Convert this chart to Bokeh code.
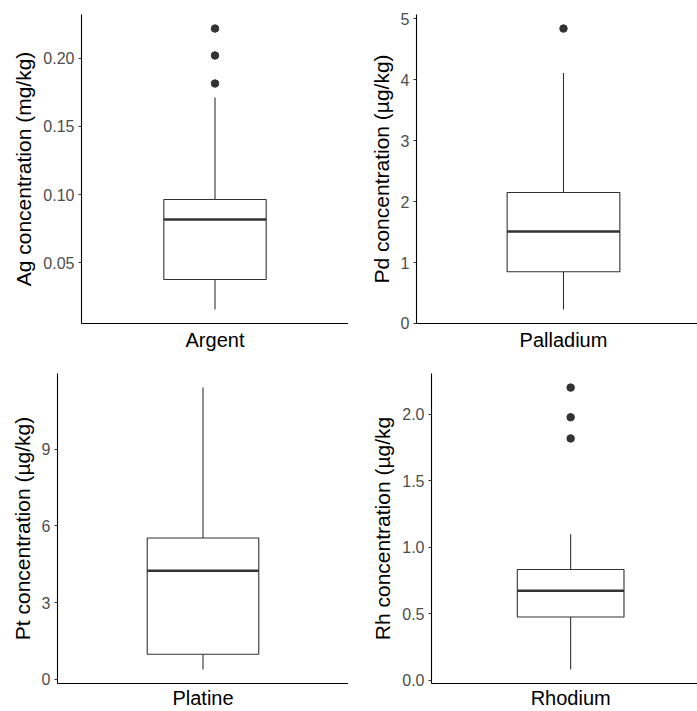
from bokeh.plotting import figure
from bokeh.models import Range1d, FixedTicker, ColumnDataSource
from bokeh.layouts import column, row
from bokeh.embed import file_html
from bokeh.resources import INLINE

# ---- data ----
categories = ["Argent", "Palladium", "Platine", "Rhodium"]
y_titles = ["Ag concentration (mg/kg)", "Pd concentration (µg/kg)",
            "Pt concentration (µg/kg)", "Rh concentration (µg/kg"]
whisker_low = [0.0155, 0.23, 0.39, 0.083]
q1 = [0.0375, 0.85, 0.98, 0.477]
median = [0.0816, 1.51, 4.25, 0.674]
q3 = [0.0963, 2.15, 5.53, 0.833]
whisker_high = [0.1713, 4.11, 11.41, 1.098]
outliers = [[0.1816, 0.2022, 0.222], [4.84], [], [1.818, 1.977, 2.20]]
y_ticks = [[0.05, 0.10, 0.15, 0.20], [0, 1, 2, 3, 4, 5], [0, 3, 6, 9],
           [0.0, 0.5, 1.0, 1.5, 2.0]]
y_tick_labels = [["0.05", "0.10", "0.15", "0.20"], ["0", "1", "2", "3", "4", "5"],
                 ["0", "3", "6", "9"], ["0.0", "0.5", "1.0", "1.5", "2.0"]]

DARK = "#333333"
FONT = "Liberation Sans"
BOX_W = 0.46


def make_panel(i, width, height, bl, bt, bb, x_end, xstand):
    vals = [whisker_low[i], whisker_high[i]] + outliers[i]
    lo, hi = min(vals), max(vals)
    pad = 0.05 * (hi - lo)
    p = figure(width=width, height=height,
               x_range=Range1d(-0.6, x_end), y_range=Range1d(lo - pad, hi + pad),
               output_backend="svg", toolbar_location=None,
               min_border_left=bl, min_border_right=0,
               min_border_top=bt, min_border_bottom=bb)
    p.outline_line_color = None
    p.xgrid.visible = False
    p.ygrid.visible = False
    p.background_fill_color = "white"
    p.border_fill_color = "white"

    xc = 0  # position of the single category in this panel
    src = ColumnDataSource(dict(
        x=[xc], left=[xc - BOX_W / 2], right=[xc + BOX_W / 2],
        lo=[whisker_low[i]], q1=[q1[i]], med=[median[i]], q3=[q3[i]],
        hi=[whisker_high[i]]))
    p.segment(x0="x", y0="lo", x1="x", y1="q1", source=src,
              line_color=DARK, line_width=1.1)
    p.segment(x0="x", y0="q3", x1="x", y1="hi", source=src,
              line_color=DARK, line_width=1.1)
    p.quad(left="left", right="right", bottom="q1", top="q3", source=src,
           fill_color="white", line_color=DARK, line_width=1.1)
    p.segment(x0="left", y0="med", x1="right", y1="med", source=src,
              line_color=DARK, line_width=2.6)
    if outliers[i]:
        p.scatter(x=[xc] * len(outliers[i]), y=outliers[i], size=7.5,
                  color=DARK, line_color=DARK)

    # x axis
    xa = p.xaxis[0]
    xa.ticker = FixedTicker(ticks=[xc])
    xa.major_label_overrides = {xc: categories[i]}
    xa.major_tick_out = 0
    xa.major_tick_in = 0
    xa.minor_tick_out = 0
    xa.minor_tick_in = 0
    xa.axis_line_color = "black"
    xa.axis_line_width = 1.1
    xa.major_label_text_font = FONT
    xa.major_label_text_font_size = "20px"
    xa.major_label_text_color = "black"
    xa.major_label_standoff = xstand

    # y axis
    ya = p.yaxis[0]
    ya.ticker = FixedTicker(ticks=y_ticks[i])
    ya.major_label_overrides = dict(zip(y_ticks[i], y_tick_labels[i]))
    ya.major_tick_out = 3
    ya.major_tick_in = 0
    ya.minor_tick_out = 0
    ya.minor_tick_in = 0
    ya.major_tick_line_color = DARK
    ya.axis_line_color = "black"
    ya.axis_line_width = 1.1
    ya.major_label_text_font = FONT
    ya.major_label_text_font_size = "16px"
    ya.major_label_text_color = "#4D4D4D"
    ya.major_label_standoff = 4
    ya.axis_label = y_titles[i]
    ya.axis_label_text_font = FONT
    ya.axis_label_text_font_size = "21px"
    ya.axis_label_text_font_style = "normal"
    ya.axis_label_text_color = "black"
    ya.axis_label_standoff = 5
    return p


p1 = make_panel(0, 348, 356, 81, 13, 33, 0.6, 5)
p2 = make_panel(1, 349, 356, 68, 14, 31, 0.547, 5)
p3 = make_panel(2, 348, 355, 57, 16, 28, 0.6, 3)
p4 = make_panel(3, 349, 355, 83, 17, 27, 0.547, 3)

layout = column(row(p1, p2), row(p3, p4))

open("out.html", "w").write(file_html(layout, INLINE))
